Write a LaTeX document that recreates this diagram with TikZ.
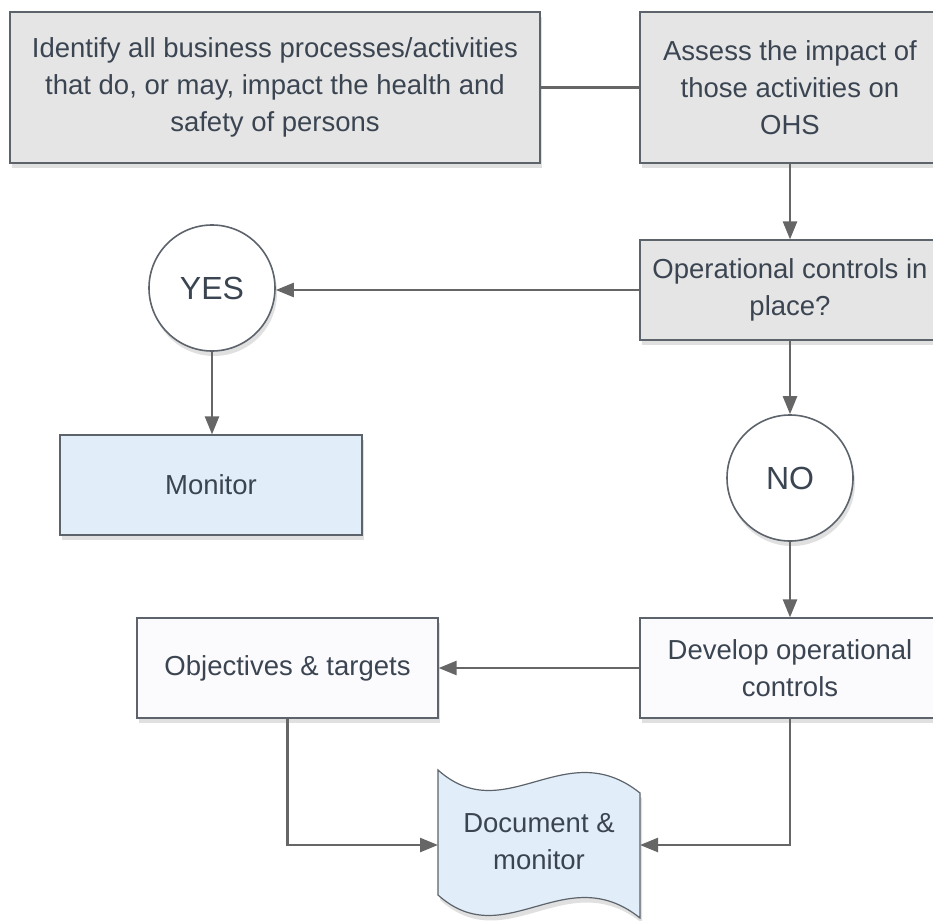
\documentclass[tikz,border=0pt]{standalone}
\usepackage{fontspec}
\setmainfont{Liberation Sans}
\usetikzlibrary{arrows.meta,shadows}
\definecolor{txt}{HTML}{3B4552}
\definecolor{edge}{HTML}{5C636B}
\definecolor{wire}{HTML}{666666}
\definecolor{greyfill}{HTML}{E5E5E5}
\definecolor{bluefill}{HTML}{E1EDF8}
\definecolor{whitefill}{HTML}{FBFBFD}
\tikzset{
  x=1pt, y=-1pt,
  softshadow/.style={drop shadow={shadow xshift=2pt, shadow yshift=-5pt, opacity=0.12, fill=black}},
  labelfont/.style={font=\fontsize{27.5}{37}\selectfont},
  procbox/.style={draw=edge, line width=1.2pt, text=txt, align=center, labelfont, inner sep=0pt, softshadow},
  greybox/.style={procbox, fill=greyfill},
  bluebox/.style={procbox, fill=bluefill},
  whitebox/.style={procbox, fill=whitefill},
  answer/.style={circle, draw=edge, line width=1.6pt, fill=white, text=txt, font=\fontsize{32}{38}\selectfont, minimum size=126pt, inner sep=0pt, softshadow},
  wirelink/.style={draw=wire, line width=2.5pt},
  arrowlink/.style={wirelink, -{Triangle[length=18pt,width=14pt]}},
}
\begin{document}
\begin{tikzpicture}
\useasboundingbox (0,0) rectangle (933,920);

% upper row
\node[greybox, minimum width=530pt, minimum height=151pt] (identify) at (275,87.5)
  {Identify all business processes/activities\\that do, or may, impact the health and\\safety of persons};
\node[greybox, minimum width=300pt, minimum height=151pt] (assess) at (790,87.5)
  {Assess the impact of\\those activities on\\OHS};

% decision
\node[greybox, minimum width=300pt, minimum height=100pt] (controls) at (790,290)
  {Operational controls in\\place?};
\node[answer] (yes) at (212,288) {YES};
\node[answer] (no) at (790,478) {NO};

% outcomes
\node[bluebox, minimum width=302pt, minimum height=100pt] (monitor) at (211,485) {Monitor};
\node[whitebox, minimum width=300pt, minimum height=100pt] (develop) at (790,668)
  {Develop operational\\controls};
\node[whitebox, minimum width=301pt, minimum height=100pt] (objectives) at (287.5,668)
  {Objectives \& targets};

% wavy document shape
\path[draw=edge, line width=1.2pt, fill=bluefill, softshadow]
  (438,770) .. controls (505,830) and (565,733) .. (640,793)
  -- (640,918) .. controls (565,858) and (505,955) .. (438,895) -- cycle;
\node[text=txt, align=center, labelfont, inner sep=0pt] (document) at (539,842)
  {Document \&\\monitor};
\coordinate (docleft) at (438,845);
\coordinate (docright) at (640,845);

% connectors
\draw[wirelink] (identify.east) -- (assess.west);
\draw[arrowlink] (assess.south) -- (controls.north);
\draw[arrowlink] (controls.west) -- (yes.east |- controls.west);
\draw[arrowlink] (yes.south) -- (monitor.north -| yes.south);
\draw[arrowlink] (controls.south) -- (no.north);
\draw[arrowlink] (no.south) -- (develop.north);
\draw[arrowlink] (develop.west) -- (objectives.east);
\draw[arrowlink] (objectives.south) |- (docleft);
\draw[arrowlink] (develop.south) |- (docright);
\end{tikzpicture}
\end{document}
